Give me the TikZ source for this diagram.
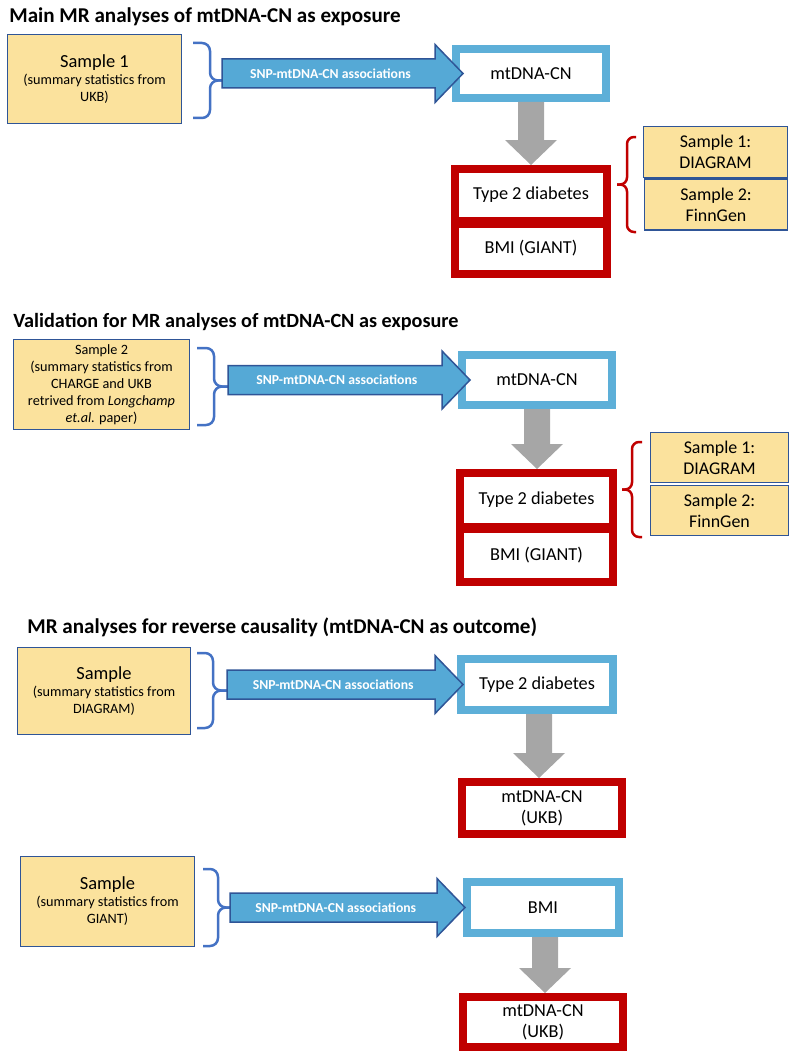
\documentclass[tikz,border=0pt]{standalone}
\usepackage{fontspec}
\setmainfont{Carlito}
\usepackage{tikz}
\usetikzlibrary{calc}

\definecolor{sampleyellow}{HTML}{FBE29D}
\definecolor{sampleblue}{HTML}{2F5597}
\definecolor{braceblue}{HTML}{4472C4}
\definecolor{expblue}{HTML}{5DAFD8}
\definecolor{arrowblue}{HTML}{55A9D6}
\definecolor{outred}{HTML}{C00000}
\definecolor{flowgray}{HTML}{A6A6A6}

\newlength{\px}
\setlength{\px}{0.02cm}

% block arrow from start coordinate to tip coordinate
\newcommand{\snparrow}[2]{%
  \draw[snp arrow] ($(#1)+(0,-14.5)$) -- ($(#2)+(-28,-14.5)$) -- ($(#2)+(-28,-29)$) -- (#2)
    -- ($(#2)+(-28,29)$) -- ($(#2)+(-28,14.5)$) -- ($(#1)+(0,14.5)$) -- cycle;}
% grey arrow pointing down
\newcommand{\grayarrow}[2]{%
  \fill[flowgray] ($(#1)+(-13,0)$) -- ($(#2)+(-13,-25)$) -- ($(#2)+(-26,-25)$) -- (#2)
    -- ($(#2)+(26,-25)$) -- ($(#2)+(13,-25)$) -- ($(#1)+(13,0)$) -- cycle;}
% curly brace: style, top, bottom, spine offset, tip offset
\newcommand{\officebrace}[5]{%
  \draw[#1] (#2) -- ++(#4,0) |- ($(#2)!0.5!(#3)+(#5,0)$);
  \draw[#1] (#3) -- ++(#4,0) |- ($(#2)!0.5!(#3)+(#5,0)$);}

\begin{document}
\begin{tikzpicture}[
      x=0.02cm, y=-0.02cm,
      title/.style={anchor=west, inner sep=0, font=\fontsize{12}{14}\selectfont\bfseries},
      sample/.style={draw=sampleblue, fill=sampleyellow, line width=1.5\px, align=center,
        inner sep=0, font=\fontsize{8.1}{9.7}\selectfont},
      samplebig/.style={font=\fontsize{10.2}{12}\selectfont},
      expbox/.style={draw=expblue, fill=white, line width=8\px, inner sep=0,
        font=\fontsize{10.4}{12}\selectfont},
      outbox/.style={draw=outred, fill=white, line width=8\px, inner sep=0, align=center,
        font=\fontsize{10.4}{12}\selectfont},
      bluebrace/.style={draw=braceblue, line width=2.5\px, rounded corners=8\px},
      redbrace/.style={draw=outred, line width=2.5\px, rounded corners=7\px},
      snp arrow/.style={fill=arrowblue, draw=sampleblue, line width=1.5\px},
      snp text/.style={text=white, inner sep=0, font=\fontsize{7.8}{9}\selectfont\bfseries}
    ]
    \useasboundingbox (0,0) rectangle (789,1051);

    % main analyses
    \node[title] (title1) at (9,17) {Main MR analyses of mtDNA-CN as exposure};
    \node[sample, minimum width=174\px, minimum height=89\px] (s1) at (94.5,79)
      {{\fontsize{10.5}{12.5}\selectfont Sample 1}\\(summary statistics from\\UKB)};
    \node[expbox, minimum width=150\px, minimum height=49\px] (m1) at (531,73.5) {mtDNA-CN};
    \node[outbox, minimum width=152\px, minimum height=52\px] (t1) at (531,195) {Type 2 diabetes};
    \node[outbox, minimum width=152\px, minimum height=50\px] (g1) at (531,248.5) {BMI (GIANT)};
    \node[sample, samplebig, minimum width=144\px, minimum height=51\px] (d1) at (715.5,152) {Sample 1:\\DIAGRAM};
    \node[sample, samplebig, minimum width=143\px, minimum height=51\px] (f1) at (716,204.5) {Sample 2:\\FinnGen};
    \coordinate (b1top) at (193,43);
    \coordinate (b1bot) at (193,118);
    \coordinate (b1tip) at ($(b1top)!0.5!(b1bot)+(29,0)$);
    \officebrace{bluebrace}{b1top}{b1bot}{17}{29}
    \coordinate (r1top) at (636,137);
    \coordinate (r1bot) at (636,232);
    \officebrace{redbrace}{r1top}{r1bot}{-9}{-19}
    \coordinate (a1s) at (b1tip |- m1);
    \coordinate (a1e) at ($(m1.west)+(11,0)$);
    \snparrow{a1s}{a1e}
    \node[snp text] (l1) at ($(a1s)!0.45!(a1e)$) {SNP-mtDNA-CN associations};
    \coordinate (d1s) at (m1.south);
    \coordinate (d1e) at (m1.south |- t1.north);
    \grayarrow{d1s}{d1e}

    % validation
    \node[title, font=\fontsize{11.5}{14}\selectfont\bfseries] (title2) at (13,322) {Validation for MR analyses of mtDNA-CN as exposure};
    \node[sample, minimum width=176\px, minimum height=90\px] (s2) at (101.5,384.5)
      {Sample 2\\(summary statistics from\\CHARGE and UKB\\retrived from \textit{Longchamp}\\\textit{et.al.} paper)};
    \node[expbox, minimum width=150\px, minimum height=50\px] (m2) at (537,380) {mtDNA-CN};
    \node[outbox, minimum width=153\px, minimum height=54\px] (t2) at (536.5,500) {Type 2 diabetes};
    \node[outbox, minimum width=153\px, minimum height=53\px] (g2) at (536.5,555.5) {BMI (GIANT)};
    \node[sample, samplebig, minimum width=138\px, minimum height=50\px] (d2) at (719.5,457.5) {Sample 1:\\DIAGRAM};
    \node[sample, samplebig, minimum width=138\px, minimum height=50\px] (f2) at (719.5,510.5) {Sample 2:\\FinnGen};
    \coordinate (b2top) at (197,348);
    \coordinate (b2bot) at (197,425);
    \coordinate (b2tip) at ($(b2top)!0.5!(b2bot)+(31,0)$);
    \officebrace{bluebrace}{b2top}{b2bot}{17}{31}
    \coordinate (r2top) at (642,442);
    \coordinate (r2bot) at (642,537);
    \officebrace{redbrace}{r2top}{r2bot}{-10}{-20}
    \coordinate (a2s) at (b2tip |- m2);
    \coordinate (a2e) at ($(m2.west)+(12,0)$);
    \snparrow{a2s}{a2e}
    \node[snp text] (l2) at ($(a2s)!0.45!(a2e)$) {SNP-mtDNA-CN associations};
    \coordinate (d2s) at (m2.south);
    \coordinate (d2e) at (m2.south |- t2.north);
    \grayarrow{d2s}{d2e}

    % reverse causality
    \node[title] (title3) at (27,627) {MR analyses for reverse causality (mtDNA-CN as outcome)};
    \node[sample, minimum width=173\px, minimum height=87\px] (s3) at (104,691)
      {{\fontsize{10.5}{12.5}\selectfont Sample}\\(summary statistics from\\DIAGRAM)};
    \node[expbox, minimum width=152\px, minimum height=51\px] (m3) at (537,684.5) {Type 2 diabetes};
    \node[outbox, minimum width=160\px, minimum height=52\px] (u3) at (542,808) {mtDNA-CN\\(UKB)};
    \coordinate (b3top) at (197,653);
    \coordinate (b3bot) at (197,728);
    \coordinate (b3tip) at ($(b3top)!0.5!(b3bot)+(30,0)$);
    \officebrace{bluebrace}{b3top}{b3bot}{16}{30}
    \coordinate (a3s) at (b3tip |- m3);
    \coordinate (a3e) at ($(m3.west)+(6,0)$);
    \snparrow{a3s}{a3e}
    \node[snp text] (l3) at ($(a3s)!0.45!(a3e)$) {SNP-mtDNA-CN associations};
    \coordinate (d3s) at ($(m3.south)+(2,0)$);
    \coordinate (d3e) at (d3s |- u3.north);
    \grayarrow{d3s}{d3e}

    \node[sample, minimum width=174\px, minimum height=90\px] (s4) at (107.5,901.5)
      {{\fontsize{10.5}{12.5}\selectfont Sample}\\(summary statistics from\\GIANT)};
    \node[expbox, minimum width=152\px, minimum height=51\px] (m4) at (543,907.5) {BMI};
    \node[outbox, minimum width=160\px, minimum height=50\px] (u4) at (543,1022) {mtDNA-CN\\(UKB)};
    \coordinate (b4top) at (203,869);
    \coordinate (b4bot) at (203,946);
    \coordinate (b4tip) at ($(b4top)!0.5!(b4bot)+(27,0)$);
    \officebrace{bluebrace}{b4top}{b4bot}{15}{27}
    \coordinate (a4s) at (b4tip |- m4);
    \coordinate (a4e) at ($(m4.west)+(2,0)$);
    \snparrow{a4s}{a4e}
    \node[snp text] (l4) at ($(a4s)!0.45!(a4e)$) {SNP-mtDNA-CN associations};
    \coordinate (d4s) at ($(m4.south)+(2,0)$);
    \coordinate (d4e) at (d4s |- u4.north);
    \grayarrow{d4s}{d4e}
\end{tikzpicture}
\end{document}
